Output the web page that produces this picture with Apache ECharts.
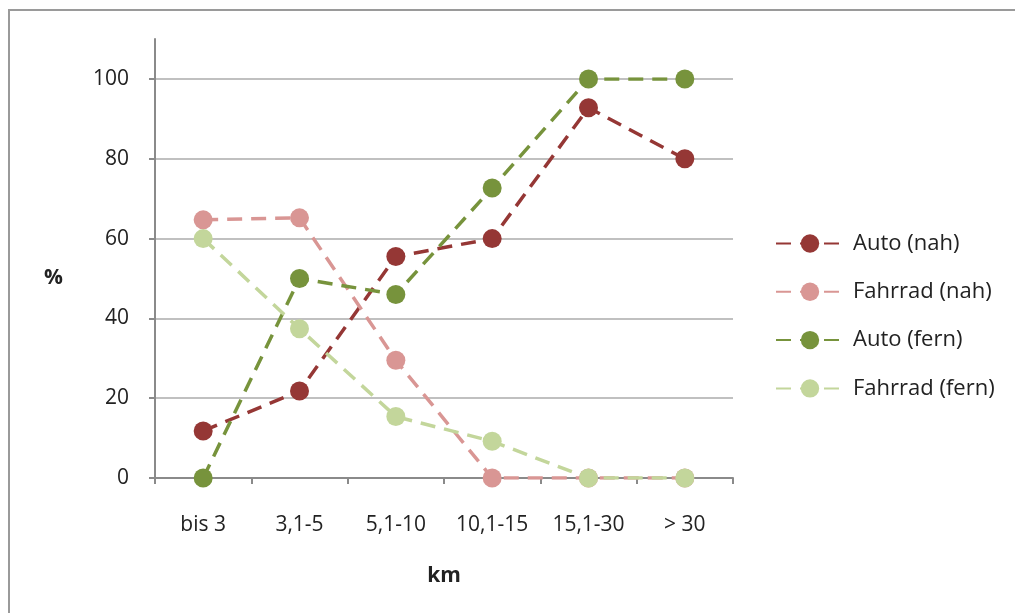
<!DOCTYPE html>
<html>
<head>
<meta charset="utf-8">
<script src="https://cdn.jsdelivr.net/npm/echarts@6/dist/echarts.min.js"></script>
<style>
html,body{margin:0;padding:0;background:#fff;}
#c{width:1015px;height:613px;position:relative;}
#frame{position:absolute;left:8px;top:9px;width:1100px;height:700px;border-left:2px solid #9a9a9a;border-top:2px solid #9a9a9a;pointer-events:none;}
</style>
</head>
<body>
<div id="c"></div>
<div id="frame"></div>
<script>
const categories = ['bis 3', '3,1-5', '5,1-10', '10,1-15', '15,1-30', '> 30'];
const autoNah = [11.8, 21.8, 55.5, 60, 92.8, 80];
const fahrradNah = [64.7, 65.2, 29.5, 0, 0, 0];
const autoFern = [0, 50, 46, 72.7, 100, 100];
const fahrradFern = [60, 37.4, 15.4, 9.2, 0, 0];
const seriesNames = ['Auto (nah)', 'Fahrrad (nah)', 'Auto (fern)', 'Fahrrad (fern)'];
const yTicks = { min: 0, max: 100, interval: 20 };

const colors = ['#953735', '#D99694', '#77933C', '#C3D69B'];
const FONT = '"Open Sans", Lato, sans-serif';
const FS = 21;

const chart = echarts.init(document.getElementById('c'), null, {renderer: 'canvas'});

function mkSeries(name, data, color) {
  return {
    name: name, type: 'line', data: data,
    xAxisIndex: 0, yAxisIndex: 0,
    symbol: 'circle', symbolSize: 19,
    lineStyle: {color: color, width: 3.5, type: [15, 9]},
    itemStyle: {color: color},
    emphasis: {disabled: true},
    animation: false
  };
}

chart.setOption({
  animation: false,
  color: colors,
  textStyle: {fontFamily: FONT},
  grid: [
    {left: 155, right: 282, top: 79, bottom: 135},
    {left: 155, right: 282, top: 39, bottom: 135}
  ],
  legend: {
    orient: 'vertical', left: 770, top: 227,
    itemWidth: 68, itemHeight: 23, itemGap: 25.3,
    data: seriesNames,
    textStyle: {fontSize: 22, lineHeight: 23, color: '#222', fontFamily: FONT, padding: [0,0,0,4]},
    selectedMode: false
  },
  xAxis: [{
    type: 'category', data: categories, gridIndex: 0,
    boundaryGap: true,
    axisLine: {lineStyle: {color: '#8a8a8a', width: 2}},
    axisTick: {show: true, length: 6, lineStyle: {color: '#8a8a8a', width: 2}},
    axisLabel: {color: '#222', fontSize: FS, margin: 37, fontFamily: FONT},
    name: 'km', nameLocation: 'middle', nameGap: 88,
    nameTextStyle: {fontSize: FS, fontWeight: 'bold', color: '#222', fontFamily: FONT}
  }, {
    type: 'category', data: categories, gridIndex: 1, show: false
  }],
  yAxis: [{
    type: 'value', gridIndex: 0,
    min: yTicks.min, max: yTicks.max, interval: yTicks.interval,
    axisLine: {show: false},
    axisTick: {show: true, length: 6, lineStyle: {color: '#8a8a8a', width: 2}},
    splitLine: {show: true, lineStyle: {color: '#ababab', width: 1.5}},
    axisLabel: {color: '#222', fontSize: FS, margin: 26, fontFamily: FONT},
    name: '%', nameLocation: 'middle', nameRotate: 0, nameGap: 92,
    nameTextStyle: {fontSize: FS, fontWeight: 'bold', color: '#222', fontFamily: FONT}
  }, {
    type: 'value', gridIndex: 1, min: 0, max: 110,
    axisLine: {show: true, lineStyle: {color: '#8a8a8a', width: 2}},
    axisTick: {show: false}, axisLabel: {show: false}, splitLine: {show: false}
  }],
  series: [
    mkSeries(seriesNames[0], autoNah, colors[0]),
    mkSeries(seriesNames[1], fahrradNah, colors[1]),
    mkSeries(seriesNames[2], autoFern, colors[2]),
    mkSeries(seriesNames[3], fahrradFern, colors[3])
  ]
});
</script>
</body>
</html>
